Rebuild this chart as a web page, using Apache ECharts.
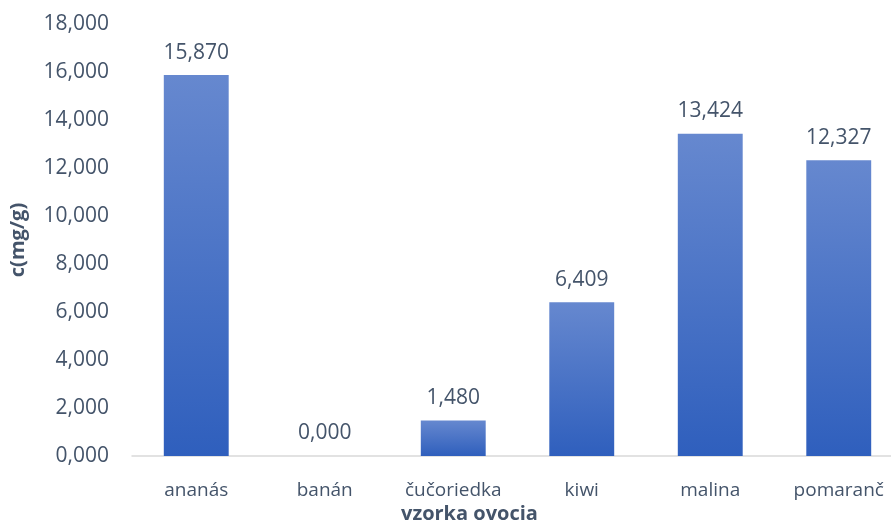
<!DOCTYPE html>
<html>
<head>
<meta charset="utf-8">
<script src="https://cdn.jsdelivr.net/npm/echarts@6/dist/echarts.min.js"></script>
<style>
html,body{margin:0;padding:0;background:#fff;}
#chart{width:891px;height:525px;}
</style>
</head>
<body>
<div id="chart"></div>
<script>
// Fruit samples and measured concentration c (mg/g)
const fruits = ['ananás', 'banán', 'čučoriedka', 'kiwi', 'malina', 'pomaranč'];
const concentration = [15.870, 0.000, 1.480, 6.409, 13.424, 12.327];
const yTicks = [0, 2, 4, 6, 8, 10, 12, 14, 16, 18];

const textColor = '#44546a';
const fontFamily = '"Open Sans", "DejaVu Sans", sans-serif';

// Slovak-style number format: three decimals, comma as decimal separator
function fmt(v) {
  return v.toFixed(3).replace('.', ',');
}

const chart = echarts.init(document.getElementById('chart'), null, { renderer: 'canvas' });
chart.setOption({
  animation: false,
  backgroundColor: '#ffffff',
  grid: { left: 132, top: 24, right: -12, bottom: 69, containLabel: false, outerBoundsMode: 'none' },
  xAxis: {
    type: 'category',
    data: fruits,
    axisLine: { show: true, lineStyle: { color: '#d9d9d9', width: 1.5 } },
    axisTick: { show: false },
    axisLabel: { interval: 0, color: textColor, fontSize: 19, fontFamily: fontFamily, margin: 25 }
  },
  yAxis: {
    type: 'value',
    min: yTicks[0],
    max: yTicks[yTicks.length - 1],
    interval: 2,
    splitLine: { show: false },
    axisLine: { show: false },
    axisTick: { show: false },
    axisLabel: { color: textColor, fontSize: 21, fontFamily: fontFamily, margin: 23, formatter: v => fmt(v) },
    name: 'c(mg/g)',
    nameLocation: 'middle',
    nameGap: 104,
    nameRotate: 90,
    nameTextStyle: { color: textColor, fontSize: 20, fontWeight: 'bold', fontFamily: fontFamily }
  },
  graphic: [{
    type: 'text',
    left: 469 - 68,
    top: 504,
    style: { text: 'vzorka ovocia', fill: textColor, font: 'bold 20px ' + fontFamily }
  }],
  series: [{
    type: 'bar',
    data: concentration,
    barWidth: '50.5%',
    itemStyle: {
      color: new echarts.graphic.LinearGradient(0, 0, 0, 1, [
        { offset: 0, color: '#6688cf' },
        { offset: 1, color: '#2f5fbd' }
      ])
    },
    label: {
      show: true,
      position: 'top',
      distance: 12,
      color: textColor,
      fontSize: 21,
      fontFamily: fontFamily,
      formatter: p => fmt(p.value)
    }
  }]
});
</script>
</body>
</html>
